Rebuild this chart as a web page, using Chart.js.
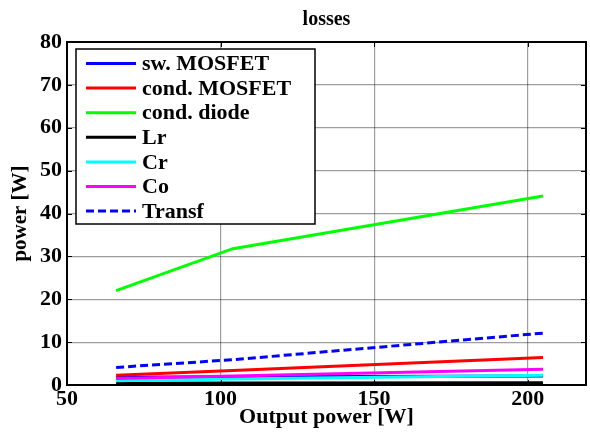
<!DOCTYPE html>
<html>
<head>
<meta charset="utf-8">
<script src="https://cdn.jsdelivr.net/npm/chart.js@4/dist/chart.umd.min.js"></script>
<style>
  html, body { margin: 0; padding: 0; background: #fff; }
  #wrap { width: 590px; height: 432px; }
</style>
</head>
<body>
<div id="wrap"><canvas id="c" width="590" height="432"></canvas></div>
<script>
// Output power operating points [W]
const outputPower = [66, 104, 205];

// Loss components [W]
const swMosfet   = [1.8, 1.9, 2.1];
const condMosfet = [2.3, 3.4, 6.4];
const condDiode  = [22.0, 31.8, 44.1];
const lrLoss     = [0.4, 0.45, 0.5];
const crLoss     = [1.0, 1.4, 2.3];
const coLoss     = [1.5, 2.1, 3.7];
const transfLoss = [4.1, 5.9, 12.1];

const seriesNames = ['sw. MOSFET', 'cond. MOSFET', 'cond. diode', 'Lr', 'Cr', 'Co', 'Transf'];
const seriesValues = [swMosfet, condMosfet, condDiode, lrLoss, crLoss, coLoss, transfLoss];
const seriesColors = ['#0000ff', '#ff0000', '#00ff00', '#000000', '#00ffff', '#ff00ff', '#0000ff'];
const seriesDash = [[], [], [], [], [], [], [8, 4]];

const xTicks = [50, 100, 150, 200];
const yTicks = [0, 10, 20, 30, 40, 50, 60, 70, 80];

const FONT = "'Liberation Serif', 'Times New Roman', serif";

const datasets = seriesNames.map((name, i) => ({
  label: name,
  data: outputPower.map((x, k) => ({ x: x, y: seriesValues[i][k] })),
  borderColor: seriesColors[i],
  backgroundColor: seriesColors[i],
  borderWidth: 3,
  borderDash: seriesDash[i],
  pointRadius: 0,
  tension: 0,
  fill: false,
  order: -i
}));

// Box frame, inward tick marks and the legend inside the axes
const boxPlugin = {
  id: 'boxFrame',
  afterDatasetsDraw(chart) {
    const { ctx, chartArea: a, scales } = chart;
    ctx.save();
    ctx.strokeStyle = '#000';
    ctx.lineWidth = 1;
    const tl = 5;
    ctx.beginPath();
    xTicks.forEach(v => {
      const px = Math.round(scales.x.getPixelForValue(v)) + 0.5;
      ctx.moveTo(px, a.bottom); ctx.lineTo(px, a.bottom - tl);
      ctx.moveTo(px, a.top); ctx.lineTo(px, a.top + tl);
    });
    yTicks.forEach(v => {
      const py = Math.round(scales.y.getPixelForValue(v)) + 0.5;
      ctx.moveTo(a.left, py); ctx.lineTo(a.left + tl, py);
      ctx.moveTo(a.right, py); ctx.lineTo(a.right - tl, py);
    });
    ctx.stroke();
    ctx.lineWidth = 2;
    ctx.strokeRect(a.left, a.top, a.right - a.left, a.bottom - a.top);

    // legend
    ctx.font = 'bold 22px ' + FONT;
    let maxW = 0;
    seriesNames.forEach(n => { maxW = Math.max(maxW, ctx.measureText(n).width); });
    const lx = a.left + 9, ly = a.top + 7;
    const rowH = 24.6;
    const sampleX0 = lx + 10, sampleX1 = lx + 60, textX = lx + 66;
    const lw = Math.max(textX + maxW + 10 - lx, 239);
    const lh = 175;
    ctx.fillStyle = '#fff';
    ctx.fillRect(lx, ly, lw, lh);
    ctx.lineWidth = 1.5;
    ctx.strokeStyle = '#000';
    ctx.strokeRect(lx, ly, lw, lh);
    chart.data.datasets.forEach((ds, i) => {
      const cy = ly + 14.5 + i * rowH;
      ctx.beginPath();
      ctx.setLineDash(ds.borderDash || []);
      ctx.strokeStyle = ds.borderColor;
      ctx.lineWidth = 3;
      ctx.moveTo(sampleX0, cy);
      ctx.lineTo(sampleX1, cy);
      ctx.stroke();
      ctx.setLineDash([]);
      ctx.fillStyle = '#000';
      ctx.textBaseline = 'middle';
      ctx.textAlign = 'left';
      ctx.fillText(ds.label, textX, cy + 1);
    });
    ctx.restore();
  }
};

new Chart(document.getElementById('c'), {
  type: 'line',
  data: { datasets },
  options: {
    responsive: false,
    animation: false,
    layout: { padding: { left: 0, right: 4, top: 0, bottom: 0 } },
    plugins: {
      legend: { display: false },
      tooltip: { enabled: false },
      title: {
        display: true,
        text: 'losses',
        fullSize: false,
        color: '#000',
        font: { family: FONT, size: 20, weight: 'bold' },
        padding: { top: 8, bottom: 10 }
      }
    },
    scales: {
      x: {
        type: 'linear',
        min: 50,
        max: 219,
        afterBuildTicks(scale) { scale.ticks = xTicks.map(v => ({ value: v })); },
        afterFit(scale) { scale.height = 47; },
        ticks: {
          color: '#000',
          font: { family: FONT, size: 22, weight: 'bold' },
          padding: 1,
          maxRotation: 0,
          autoSkip: false
        },
        grid: { color: 'rgba(0,0,0,0.38)', lineWidth: 1.2, drawTicks: false },
        border: { display: false },
        title: {
          display: true,
          text: 'Output power [W]',
          color: '#000',
          font: { family: FONT, size: 22, weight: 'bold' },
          padding: { top: 0, bottom: 1.5 }
        }
      },
      y: {
        type: 'linear',
        min: 0,
        max: 80,
        afterBuildTicks(scale) { scale.ticks = yTicks.map(v => ({ value: v })); },
        afterFit(scale) { scale.width = 67; },
        ticks: {
          color: '#000',
          font: { family: FONT, size: 22, weight: 'bold' },
          padding: 5,
          autoSkip: false
        },
        grid: { color: 'rgba(0,0,0,0.38)', lineWidth: 1.2, drawTicks: false },
        border: { display: false },
        title: {
          display: true,
          text: 'power [W]',
          color: '#000',
          font: { family: FONT, size: 21, weight: 'bold' },
          padding: { top: 8, bottom: 0 }
        }
      }
    }
  },
  plugins: [boxPlugin]
});
</script>
</body>
</html>
